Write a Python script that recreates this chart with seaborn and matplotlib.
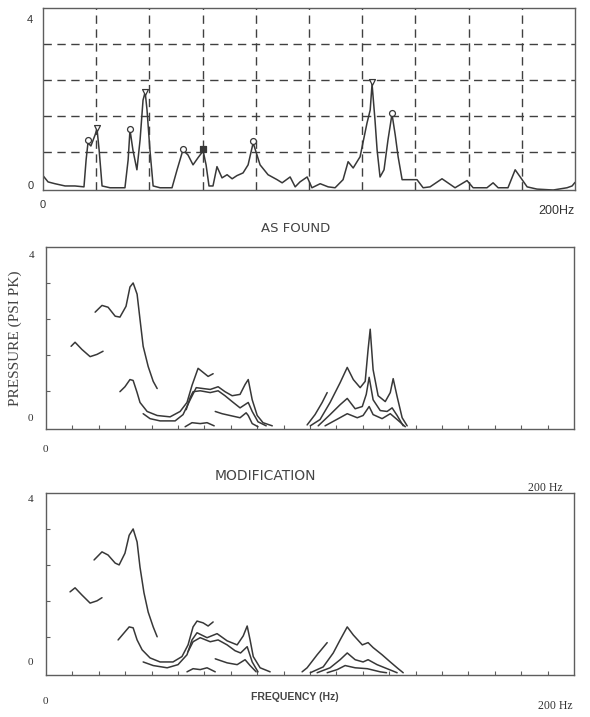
"""
Pressure pulsation spectra: as found vs. modification
=====================================================

Three stacked panels redrawn from a scanned report figure.
"""

import pandas as pd
import matplotlib
matplotlib.use('Agg')
import matplotlib.pyplot as plt
import seaborn as sns

# ---------------------------------------------------------------
# Data (frequency in Hz, pressure in psi pk)
# ---------------------------------------------------------------

# Panel 1 - "AS FOUND" spectrum
as_found_freq = [0, 1.9, 4.5, 8.3, 12.0, 15.4, 16.2, 16.9, 18.0, 19.6, 20.3, 21.1,
                 22.2, 25.2, 30.8, 32.0, 32.7, 33.8, 35.3, 36.5, 37.6, 38.4, 39.1,
                 40.2, 41.4, 44.0, 48.5, 50.4, 52.6, 54.5, 56.4, 58.3, 60.2, 61.3,
                 62.4, 63.9, 65.4, 67.3, 69.2, 71.1, 72.9, 75.2, 77.1, 79.0, 81.6,
                 84.6, 88.0, 89.9, 92.9, 94.8, 96.6, 99.3, 101.1, 104.2, 107.2,
                 109.8, 112.8, 114.7, 116.6, 119.2, 121.8, 123.0, 123.7, 124.8,
                 125.6, 126.7, 128.2, 129.7, 131.2, 132.4, 133.5, 135.0, 140.6,
                 142.9, 145.5, 150.0, 154.9, 159.4, 161.7, 166.9, 169.2, 171.1,
                 174.8, 177.5, 179.4, 182.0, 185.7, 191.8, 197.0, 198.9, 200.0]
as_found_amp = [0.27, 0.13, 0.09, 0.04, 0.04, 0.02, 0.62, 1.0, 0.93, 1.18, 1.31, 0.84,
                0.04, 0.0, 0.0, 0.62, 1.29, 0.84, 0.40, 1.07, 1.95, 2.13, 1.73,
                0.84, 0.04, 0.0, 0.0, 0.40, 0.84, 0.73, 0.51, 0.67, 0.82, 0.51,
                0.04, 0.04, 0.47, 0.22, 0.29, 0.20, 0.27, 0.33, 0.51, 1.0, 0.51,
                0.29, 0.18, 0.11, 0.24, 0.02, 0.13, 0.24, 0.0, 0.09, 0.02,
                0.0, 0.18, 0.58, 0.44, 0.69, 1.44, 1.73, 2.31, 1.51,
                0.84, 0.24, 0.40, 1.07, 1.64, 1.18, 0.69, 0.18, 0.18,
                0.0, 0.02, 0.20, 0.0, 0.16, 0.0, 0.0, 0.11, 0.0,
                0.0, 0.40, 0.24, 0.02, -0.03, -0.05, 0.0, 0.04, 0.12]

# peak markers on the as-found trace
peak_freq = [16.9, 20.3, 32.7, 38.2, 52.6, 60.2, 79.0, 123.7, 131.2]
peak_amp = [1.07, 1.33, 1.31, 2.13, 0.86, 0.86, 1.03, 2.35, 1.66]
peak_mark = ['o', 'v', 'o', 'v', 'o', 's', 'o', 'v', 'o']

# Panel 2 - "MODIFICATION" traces, one list of (Hz, psi) per line
mod_ripple = [(9.5, 1.79), (11.0, 1.88), (13.6, 1.72), (16.7, 1.56), (19.3, 1.61),
              (21.6, 1.68)]
mod_main = [(18.6, 2.55), (21.2, 2.70), (23.5, 2.66), (26.2, 2.46), (28.0, 2.44),
            (30.3, 2.68), (31.8, 3.11), (33.0, 3.20), (34.5, 2.95), (35.6, 2.39),
            (36.8, 1.79), (38.7, 1.34), (40.6, 1.01), (42.1, 0.85)]
mod_second = [(28.0, 0.78), (29.9, 0.89), (31.8, 1.05), (33.0, 1.03), (34.5, 0.76),
              (35.6, 0.54), (38.3, 0.34), (42.1, 0.25), (47.0, 0.22), (50.8, 0.34),
              (53.4, 0.54), (55.3, 0.92), (57.6, 1.30), (59.5, 1.21), (61.4, 1.12),
              (63.3, 1.18)]
mod_third = [(36.8, 0.29), (39.4, 0.18), (43.2, 0.13), (48.9, 0.13), (51.9, 0.27),
             (54.6, 0.60), (56.9, 0.87), (59.5, 0.85), (62.2, 0.83), (65.2, 0.89),
             (67.8, 0.78), (70.5, 0.69), (73.5, 0.72), (75.4, 0.94), (76.6, 1.05),
             (78.1, 0.60), (80.0, 0.25), (82.2, 0.09), (85.7, 0.02)]
mod_fourth = [(53.1, 0.38), (54.6, 0.65), (55.7, 0.78), (58.4, 0.80), (62.2, 0.76),
              (65.2, 0.80), (67.8, 0.69), (70.5, 0.56), (73.5, 0.42), (76.6, 0.54),
              (78.1, 0.34), (80.3, 0.11), (83.4, 0.02)]
mod_fifth = [(64.1, 0.34), (66.7, 0.29), (69.7, 0.25), (73.5, 0.20), (75.8, 0.31),
             (76.6, 0.25), (78.1, 0.07), (80.3, 0.0)]
mod_floor = [(52.7, 0.0), (55.3, 0.09), (58.4, 0.07), (61.0, 0.09), (63.7, 0.02)]
mod_rise = [(98.9, 0.04), (101.9, 0.27), (104.6, 0.54), (106.5, 0.76)]
mod_high = [(100.1, 0.02), (103.8, 0.16), (107.6, 0.54), (111.4, 0.98), (114.1, 1.32),
            (116.4, 1.05), (119.0, 0.87), (120.9, 1.01), (122.0, 1.72), (122.8, 2.17),
            (123.9, 1.27), (125.8, 0.69), (128.5, 0.56), (130.4, 0.76), (131.5, 1.07),
            (133.0, 0.67), (134.9, 0.20), (136.8, 0.02)]
mod_mid = [(103.1, 0.02), (107.6, 0.27), (111.4, 0.49), (114.1, 0.63), (117.1, 0.40),
           (119.8, 0.45), (121.3, 0.72), (122.4, 1.10), (123.9, 0.60), (126.6, 0.36),
           (129.2, 0.34), (131.1, 0.42), (133.0, 0.25), (135.3, 0.02)]
mod_low = [(105.7, 0.02), (110.7, 0.18), (114.1, 0.29), (117.9, 0.20), (120.1, 0.25),
           (122.4, 0.45), (123.9, 0.27), (127.3, 0.18), (130.4, 0.29), (133.0, 0.16),
           (136.1, 0.0)]

# Panel 3 - second modification (same low end, damped 120 Hz group)
fin_ripple = [(9.1, 1.80), (11.0, 1.89), (13.6, 1.73), (16.7, 1.55), (19.3, 1.60),
              (21.2, 1.67)]
fin_main = [(18.2, 2.51), (21.2, 2.69), (23.5, 2.62), (26.2, 2.44), (27.7, 2.40),
            (29.9, 2.66), (31.5, 3.06), (33.0, 3.20), (34.5, 2.91), (35.6, 2.35),
            (37.1, 1.78), (38.7, 1.35), (40.6, 1.02), (42.1, 0.80)]
fin_second = [(27.3, 0.73), (29.9, 0.91), (31.5, 1.02), (33.0, 1.00), (34.5, 0.73),
              (36.4, 0.51), (39.4, 0.33), (43.2, 0.24), (48.1, 0.24), (51.5, 0.36),
              (53.8, 0.62), (55.7, 1.02), (57.2, 1.15), (59.5, 1.11), (61.4, 1.04),
              (63.3, 1.13)]
fin_third = [(36.8, 0.24), (40.6, 0.16), (45.9, 0.11), (50.0, 0.18), (53.4, 0.40),
             (55.3, 0.73), (57.2, 0.89), (61.0, 0.78), (64.8, 0.87), (68.6, 0.71),
             (72.4, 0.62), (74.7, 0.82), (76.2, 1.04), (77.3, 0.73), (78.5, 0.36),
             (81.1, 0.11), (84.9, 0.02)]
fin_fourth = [(53.8, 0.47), (55.7, 0.69), (58.4, 0.78), (62.2, 0.69), (65.2, 0.73),
              (68.6, 0.62), (71.6, 0.49), (73.7, 0.44), (76.2, 0.58), (78.1, 0.24),
              (80.3, 0.02)]
fin_fifth = [(64.1, 0.31), (68.6, 0.22), (72.4, 0.18), (75.4, 0.29), (77.3, 0.16),
             (79.6, 0.02)]
fin_floor = [(53.4, 0.02), (55.7, 0.09), (58.4, 0.07), (61.0, 0.11), (64.1, 0.02)]
fin_rise = [(97.0, 0.02), (98.9, 0.11), (102.7, 0.40), (106.5, 0.67)]
fin_high = [(100.1, 0.0), (105.0, 0.13), (108.8, 0.44), (111.4, 0.73), (114.1, 1.02),
            (116.4, 0.84), (119.8, 0.62), (122.0, 0.67), (123.9, 0.56), (127.3, 0.40),
            (130.4, 0.24), (133.4, 0.09), (135.3, 0.0)]
fin_mid = [(102.7, 0.0), (107.6, 0.11), (111.4, 0.29), (114.1, 0.44), (117.1, 0.29),
           (120.1, 0.24), (122.0, 0.29), (125.4, 0.18), (129.2, 0.09), (133.0, 0.0)]
fin_low = [(106.5, 0.0), (110.3, 0.07), (113.3, 0.16), (117.1, 0.11), (121.7, 0.09),
           (126.6, 0.02), (129.0, 0.0)]

modification = [mod_ripple, mod_main, mod_second, mod_third, mod_fourth, mod_fifth,
                mod_floor, mod_rise, mod_high, mod_mid, mod_low]
final = [fin_ripple, fin_main, fin_second, fin_third, fin_fourth, fin_fifth,
         fin_floor, fin_rise, fin_high, fin_mid, fin_low]

INK = '#383838'
FRAME = '#5e5e5e'
SERIF = 'Liberation Serif'


def segments_to_frame(segments):
    """Stack the separate traces into one long table for seaborn."""
    rows = []
    for i, seg in enumerate(segments):
        for f, p in seg:
            rows.append({'freq': f, 'psi': p, 'seg': i})
    return pd.DataFrame(rows)


def style_frame(ax):
    ax.set_xlim(0, 200)
    ax.set_ylim(-0.05, 4.0)
    ax.set_xlabel('')
    ax.set_ylabel('')
    for side in ax.spines.values():
        side.set_color(FRAME)
        side.set_linewidth(1.0)


def note(ax, x, y, s, **kw):
    """Label placed in axes coordinates, like the hand-set labels of the scan."""
    opts = dict(transform=ax.transAxes, ha='center', va='center', fontsize=8,
                family=SERIF, color='#333')
    opts.update(kw)
    ax.text(x, y, s, **opts)


def draw_as_found(ax):
    trace = pd.DataFrame({'freq': as_found_freq, 'psi': as_found_amp})
    sns.lineplot(data=trace, x='freq', y='psi', sort=False, color=INK, lw=1.1, ax=ax)

    peaks = pd.DataFrame({'freq': peak_freq, 'psi': peak_amp, 'mark': peak_mark})
    for mk, grp in peaks.groupby('mark'):
        face = INK if mk == 's' else 'white'
        sns.scatterplot(data=grp, x='freq', y='psi', marker=mk, s=18,
                        facecolor=face, edgecolor=INK, linewidth=0.9, ax=ax, zorder=3)

    style_frame(ax)
    # dashed reading grid
    ax.set_xticks(range(20, 200, 20))
    ax.set_yticks([0.8, 1.6, 2.4, 3.2])
    ax.tick_params(length=0, labelbottom=False, labelleft=False)
    ax.grid(True, ls=(0, (6, 4)), color='#404040', lw=1.0)

    note(ax, -0.024, 0.934, '4', family='Liberation Sans')
    note(ax, -0.024, 0.022, '0', family='Liberation Sans')
    note(ax, 0.0, -0.082, '0', family='Liberation Sans')
    note(ax, 0.966, -0.115, '200Hz', fontsize=9, family='Liberation Sans')
    note(ax, 0.474, -0.209, 'AS FOUND', fontsize=9.5, family='DejaVu Sans', color='#444')


def draw_waterfall(ax, segments):
    df = segments_to_frame(segments)
    sns.lineplot(data=df, x='freq', y='psi', units='seg', estimator=None, sort=False,
                 color=INK, lw=1.1, ax=ax)
    style_frame(ax)
    ax.set_xticks(range(10, 200, 10))
    ax.set_yticks([0.8, 1.6, 2.4, 3.2])
    ax.tick_params(direction='in', length=3, width=0.8, color=FRAME,
                   bottom=True, left=True, labelbottom=False, labelleft=False)
    ax.grid(False)


def main():
    sns.set_style('white')
    plt.rcParams['font.family'] = ['DejaVu Sans']

    fig = plt.figure(figsize=(5.9, 7.17), dpi=100)
    ax1 = fig.add_axes([0.0729, 0.735, 0.9017, 0.2538])
    ax2 = fig.add_axes([0.078, 0.4017, 0.8949, 0.2538])
    ax3 = fig.add_axes([0.078, 0.0586, 0.8949, 0.2538])

    draw_as_found(ax1)

    draw_waterfall(ax2, modification)
    note(ax2, -0.027, 0.951, '4')
    note(ax2, -0.030, 0.055, '0')
    note(ax2, -0.059, 0.5, 'PRESSURE (PSI PK)', rotation=90, fontsize=11, color='#444')
    note(ax2, -0.002, -0.115, '0')
    note(ax2, 0.945, -0.324, '200 Hz', fontsize=8.5)
    note(ax2, 0.415, -0.258, 'MODIFICATION', fontsize=10, family='DejaVu Sans',
         color='#444')

    draw_waterfall(ax3, final)
    note(ax3, -0.030, 0.962, '4')
    note(ax3, -0.030, 0.066, '0')
    note(ax3, -0.002, -0.148, '0')
    note(ax3, 0.472, -0.121, 'FREQUENCY (Hz)', fontsize=7.5, weight='bold',
         family='Liberation Sans', color='#444')
    note(ax3, 0.964, -0.170, '200 Hz', fontsize=8.5)

    fig.savefig('out.png', dpi=100, facecolor='white')


if __name__ == "__main__":
    main()
